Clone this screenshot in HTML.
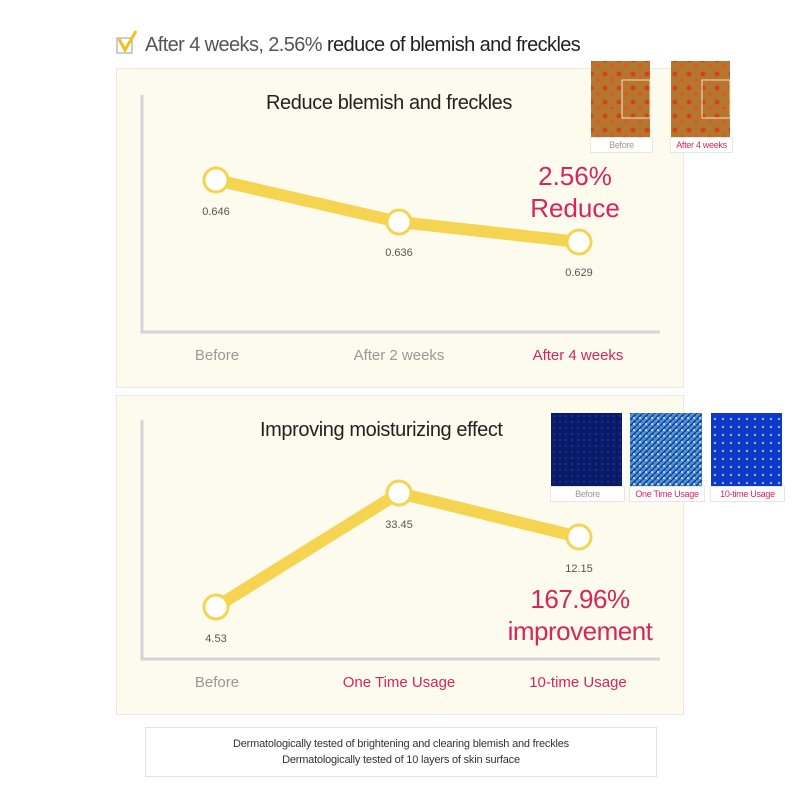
<!DOCTYPE html>
<html><head><style>
body{margin:0;width:800px;height:800px;background:#fff;font-family:"Liberation Sans",sans-serif;position:relative;overflow:hidden}
.a{position:absolute;white-space:nowrap}
.panel{position:absolute;left:116px;width:568px;height:320px;background:#fcfbee;border:1px solid #eceae0;box-sizing:border-box}
.lbl{position:absolute;font-size:15px;color:#999;text-align:center;width:160px}
.pk{color:#d6265c}
.cap{position:absolute;background:#fff;border:1px solid #e6e6e6;font-size:9px;text-align:center;line-height:14px;white-space:nowrap;letter-spacing:-0.3px;overflow:hidden}
</style></head><body>
<svg class="a" style="left:116px;top:30px" width="24" height="26"><rect x="1" y="8" width="15" height="15" fill="none" stroke="#bbb" stroke-width="1.5"/><path d="M3 9 L9 20 L20 1" fill="none" stroke="#f0c020" stroke-width="3"/></svg>
<div class="a" style="left:145px;top:34px;font-size:20px;color:#222;letter-spacing:-0.6px"><span style="color:#555">After 4 weeks, 2.56%</span> reduce of blemish and freckles</div>

<div class="panel" style="top:68px"></div>
<div class="panel" style="top:395px"></div>

<svg class="a" style="left:0;top:0" width="800" height="800">
<g stroke="#d5d5d5" stroke-width="3" fill="none">
<polyline points="142,95 142,332 660,332"/>
<polyline points="142,420 142,659 660,659"/>
</g>
<g stroke="#f5d452" stroke-width="12" fill="none" stroke-linecap="round">
<polyline points="216,180 399,222 579,242"/>
<polyline points="216,607 399,493 579,537"/>
</g>
<g fill="#fff" stroke="#f5d452" stroke-width="3">
<circle cx="216" cy="180" r="12"/><circle cx="399" cy="222" r="12"/><circle cx="579" cy="242" r="12"/>
<circle cx="216" cy="607" r="12"/><circle cx="399" cy="493" r="12"/><circle cx="579" cy="537" r="12"/>
</g>
<g font-size="11" fill="#555" text-anchor="middle" font-family="Liberation Sans">
<text x="216" y="215">0.646</text><text x="399" y="256">0.636</text><text x="579" y="276">0.629</text>
<text x="216" y="642">4.53</text><text x="399" y="528">33.45</text><text x="579" y="572">12.15</text>
</g>
<defs>
<pattern id="r" width="14" height="14" patternUnits="userSpaceOnUse"><rect width="14" height="14" fill="#b5762f"/><circle cx="3" cy="4" r="2.5" fill="#d8401c"/><circle cx="10" cy="10" r="1.8" fill="#e2551e"/></pattern>
<pattern id="b1" width="6" height="6" patternUnits="userSpaceOnUse"><rect width="6" height="6" fill="#0a1a6a"/><circle cx="2" cy="2" r="0.6" fill="#3b62d0"/></pattern>
<pattern id="b2" width="6" height="6" patternUnits="userSpaceOnUse"><rect width="6" height="6" fill="#4f8fd8"/><path d="M0 6 L6 0" stroke="#0e3a8a" stroke-width="1.5"/><circle cx="4" cy="4" r="1" fill="#cfe8ff"/></pattern>
<pattern id="b3" width="8" height="8" patternUnits="userSpaceOnUse"><rect width="8" height="8" fill="#1038c8"/><circle cx="3" cy="3" r="1.2" fill="#7cc0ff"/></pattern>
</defs>
<rect x="591" y="61" width="59" height="76" fill="url(#r)"/>
<rect x="671" y="61" width="59" height="76" fill="url(#r)"/>
<rect x="622" y="80" width="28" height="38" fill="none" stroke="#f3e6c0"/>
<rect x="702" y="80" width="28" height="38" fill="none" stroke="#f3e6c0"/>
<rect x="551" y="413" width="71" height="73" fill="url(#b1)"/>
<rect x="630" y="413" width="72" height="73" fill="url(#b2)"/>
<rect x="711" y="413" width="71" height="73" fill="url(#b3)"/>
</svg>
<div class="cap" style="left:590px;top:137px;width:61px;color:#999">Before</div>
<div class="cap pk" style="left:670px;top:137px;width:61px">After 4 weeks</div>
<div class="cap" style="left:550px;top:486px;width:73px;color:#999">Before</div>
<div class="cap pk" style="left:629px;top:486px;width:74px">One Time Usage</div>
<div class="cap pk" style="left:710px;top:486px;width:73px">10-time Usage</div>

<div class="a" style="left:266px;top:92px;font-size:20px;color:#222;letter-spacing:-0.4px">Reduce blemish and freckles</div>
<div class="a" style="left:260px;top:419px;font-size:20px;color:#222;letter-spacing:-0.4px">Improving moisturizing effect</div>
<div class="a pk" style="left:520px;top:160px;width:110px;text-align:center;font-size:26px;line-height:32px">2.56%<br>Reduce</div>
<div class="a pk" style="left:502px;top:583px;width:156px;text-align:center;font-size:26px;line-height:32px;letter-spacing:-0.5px">167.96%<br>improvement</div>

<div class="lbl" style="left:137px;top:347px">Before</div>
<div class="lbl" style="left:319px;top:347px">After 2 weeks</div>
<div class="lbl pk" style="left:498px;top:347px">After 4 weeks</div>
<div class="lbl" style="left:137px;top:674px">Before</div>
<div class="lbl pk" style="left:319px;top:674px">One Time Usage</div>
<div class="lbl pk" style="left:498px;top:674px">10-time Usage</div>

<div class="a" style="left:145px;top:727px;width:512px;height:50px;border:1px solid #e2e2e2;box-sizing:border-box;font-size:11px;color:#333;text-align:center;line-height:16px;padding-top:8px;letter-spacing:-0.2px">Dermatologically tested of brightening and clearing blemish and freckles<br>Dermatologically tested of 10 layers of skin surface</div>
</body></html>
